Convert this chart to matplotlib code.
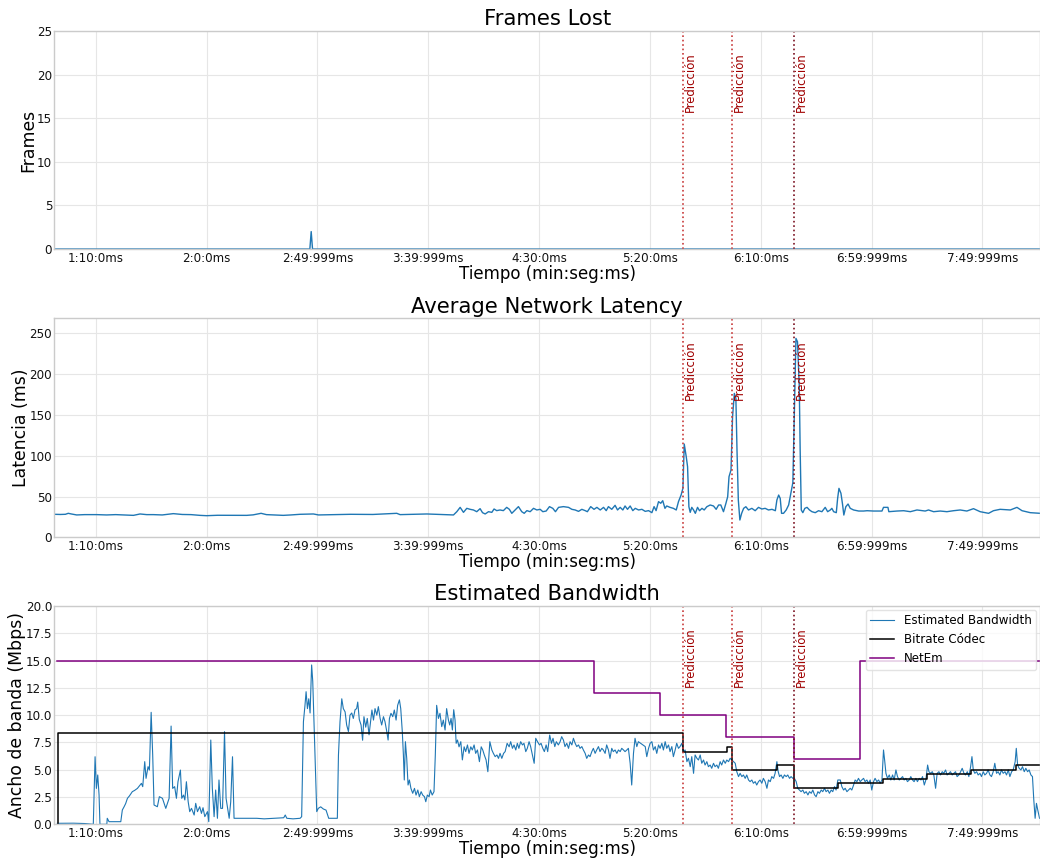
import numpy as np
import matplotlib.pyplot as plt
from matplotlib import transforms


# Time axis (seconds) and its labels
tick_pos = [70, 120, 170, 220, 270, 320, 370, 420, 470]
tick_labels = ['1:10:0ms', '2:0:0ms', '2:49:999ms', '3:39:999ms', '4:30:0ms',
               '5:20:0ms', '6:10:0ms', '6:59:999ms', '7:49:999ms']
t_min, t_max = 51.3, 496.0

# Moments where the predictor fired
pred_times = [334.9, 357.2, 384.9]
pred_colors = ['#c83a3a', '#c83a3a', '#7a1020']

# Frames lost
frames_t = [51.3, 166.6, 167.2, 167.8, 496.0]
frames_v = [0, 0, 2, 0, 0]

# Average network latency (ms)
latency_pts = [
    (51.3, 28.2), (54.0, 28.0), (56.3, 28.2), (57.6, 29.4), (59.0, 28.6), (61.4, 27.4),
    (65.0, 27.8), (70.4, 27.8), (74.9, 27.4), (79.0, 27.8), (83.0, 27.4), (87.0, 26.9),
    (90.0, 28.6), (93.0, 27.8), (96.0, 27.8), (100.0, 27.4), (105.0, 29.0), (109.0, 28.0),
    (113.0, 27.8), (117.0, 26.9), (120.0, 26.5), (125.0, 27.0), (129.0, 27.0), (133.0, 26.9),
    (138.1, 26.9), (141.0, 27.5), (144.6, 29.4), (147.0, 27.8), (150.0, 27.4), (154.6, 26.9),
    (158.0, 27.4), (162.2, 28.2), (168.2, 28.6), (170.5, 27.4), (185.0, 28.2), (195.0, 28.0),
    (205.8, 29.4), (207.3, 27.8), (219.4, 28.6), (225.0, 28.0), (231.4, 27.4), (232.9, 31.4),
    (234.4, 36.7), (235.9, 30.6), (237.4, 35.5), (238.9, 34.3), (240.4, 33.5), (241.9, 31.4),
    (243.4, 35.1), (244.5, 30.2), (245.7, 28.6), (247.2, 31.4), (248.7, 30.6), (249.7, 34.7),
    (250.9, 32.7), (252.4, 33.5), (253.9, 32.7), (255.4, 36.7), (256.6, 34.3), (257.7, 29.4),
    (259.2, 33.5), (260.7, 37.6), (262.2, 31.4), (263.3, 29.4), (264.5, 32.7), (266.0, 31.4),
    (267.5, 35.5), (269.0, 33.5), (270.5, 34.3), (271.7, 31.4), (273.2, 32.2), (274.7, 37.6),
    (276.2, 35.5), (277.4, 31.4), (278.8, 36.7), (281.0, 37.6), (283.3, 36.7), (284.8, 34.3),
    (286.3, 33.5), (287.8, 31.8), (289.3, 34.3), (290.8, 32.7), (291.8, 31.4), (293.3, 37.6),
    (294.8, 34.3), (296.1, 36.7), (297.6, 33.5), (299.1, 36.7), (300.3, 32.7), (301.3, 37.6),
    (302.8, 34.3), (304.3, 39.2), (305.4, 33.5), (306.6, 36.7), (307.8, 33.5), (308.8, 38.4),
    (309.9, 34.3), (311.1, 38.4), (312.3, 32.7), (313.4, 35.5), (314.9, 33.5), (316.4, 34.3),
    (317.9, 31.8), (319.4, 32.7), (320.9, 30.2), (321.9, 37.6), (322.8, 32.7), (323.9, 43.7),
    (324.9, 41.7), (325.8, 44.9), (326.8, 35.5), (327.6, 38.4), (329.1, 36.7), (330.6, 35.5),
    (331.9, 33.5), (332.9, 43.7), (334.1, 52.0), (334.9, 60.0), (335.5, 114.3), (336.4, 98.8),
    (337.0, 86.6), (337.6, 37.5), (338.2, 30.6), (338.9, 36.7), (339.7, 33.5), (340.5, 29.4),
    (341.5, 36.7), (342.4, 32.6), (343.5, 35.5), (344.5, 33.5), (345.7, 37.5), (347.2, 39.6),
    (348.7, 38.4), (349.9, 34.3), (351.0, 39.6), (352.0, 39.6), (353.2, 31.4), (354.3, 41.6),
    (355.1, 49.8), (355.7, 74.3), (356.6, 82.5), (357.3, 147.8), (358.1, 176.4), (358.8, 170.3),
    (359.3, 107.0), (359.9, 45.7), (360.6, 21.2), (361.4, 29.4), (362.3, 35.5), (363.3, 37.5),
    (364.5, 33.5), (366.0, 35.5), (367.5, 32.6), (369.0, 36.7), (370.5, 34.7), (372.0, 35.5),
    (373.5, 33.5), (375.1, 34.3), (376.6, 32.6), (377.3, 45.7), (378.1, 51.8), (378.8, 47.7),
    (379.4, 29.4), (380.3, 29.4), (381.5, 33.5), (382.6, 39.6), (383.3, 49.8), (384.1, 62.0),
    (384.5, 67.0), (385.3, 168.0), (385.9, 243.8), (386.6, 239.7), (387.4, 184.6), (387.8, 107.0),
    (388.3, 33.5), (389.0, 30.2), (389.9, 35.5), (390.9, 36.7), (392.0, 33.5), (393.1, 31.4),
    (394.6, 30.2), (396.1, 32.6), (397.6, 31.4), (399.1, 36.7), (400.2, 31.4), (401.4, 33.5),
    (402.1, 35.5), (402.9, 31.4), (404.1, 30.2), (404.7, 47.7), (405.3, 60.0), (406.2, 53.9),
    (406.9, 40.8), (407.5, 27.3), (408.4, 37.5), (409.4, 40.8), (410.4, 35.5), (411.9, 33.5),
    (414.2, 32.2), (416.4, 32.2), (418.0, 32.6), (420.9, 32.2), (424.7, 32.2), (425.4, 36.7),
    (427.4, 36.7), (427.8, 31.4), (431.5, 32.2), (434.5, 32.6), (437.5, 31.4), (440.5, 33.5),
    (444.2, 32.2), (445.7, 33.5), (448.0, 31.4), (451.0, 32.2), (454.0, 31.4), (457.0, 32.6),
    (460.0, 33.5), (463.0, 32.2), (466.0, 35.1), (469.0, 31.4), (472.8, 29.4), (475.0, 32.6),
    (478.0, 34.3), (482.6, 33.5), (485.6, 36.7), (487.9, 32.6), (491.6, 30.2), (496.1, 29.4),
]

# Estimated bandwidth (Mbps)
bw_pts = [
    (52.7, 0.09), (60.0, 0.1), (65.0, 0.07), (68.9, 0.0), (69.7, 6.19), (70.3, 3.29),
    (70.9, 4.52), (71.5, 2.68), (71.9, 0.0), (75.0, 0.0), (75.2, 0.55), (76.0, 0.24),
    (81.3, 0.24), (82.0, 1.31), (82.8, 1.61), (83.5, 1.9), (84.3, 2.38), (85.2, 2.6),
    (86.5, 2.99), (87.5, 3.1), (88.8, 3.29), (89.6, 3.5), (90.6, 3.75), (91.2, 3.45),
    (92.1, 5.74), (92.7, 4.21), (93.6, 5.28), (94.2, 4.97), (95.0, 10.26), (95.7, 6.35),
    (96.3, 1.77), (97.8, 1.61), (98.7, 2.53), (100.1, 2.38), (101.6, 1.46), (103.1, 2.38),
    (104.0, 9.0), (104.7, 3.29), (105.6, 3.45), (106.4, 2.38), (107.1, 3.9), (108.2, 4.97),
    (108.8, 2.38), (109.6, 2.68), (110.2, 2.23), (110.9, 3.9), (111.7, 2.07), (112.4, 1.16),
    (113.2, 1.46), (114.4, 0.85), (115.1, 1.92), (115.9, 1.16), (116.9, 1.61), (117.7, 1.0),
    (118.4, 1.52), (119.2, 0.7), (120.4, 1.16), (121.0, 0.24), (121.9, 7.72), (122.6, 3.29),
    (123.4, 0.7), (124.1, 3.14), (124.9, 0.55), (125.6, 4.06), (126.4, 1.46), (127.2, 1.46),
    (128.1, 8.49), (128.8, 2.38), (129.4, 1.61), (130.2, 0.55), (130.9, 2.07), (131.7, 6.19),
    (132.4, 0.55), (133.2, 0.55), (142.6, 0.55), (146.0, 0.5), (150.0, 0.55), (154.8, 0.6),
    (155.5, 0.85), (156.2, 0.55), (159.0, 0.5), (162.2, 0.55), (162.9, 0.7), (163.7, 9.4),
    (164.4, 10.9), (164.9, 12.15), (165.5, 10.6), (166.1, 11.5), (166.7, 10.2), (167.4, 14.6),
    (167.9, 13.1), (168.5, 9.1), (169.1, 4.8), (169.7, 1.16), (170.4, 1.46), (171.5, 1.6),
    (172.7, 1.4), (173.9, 1.3), (175.1, 0.55), (179.0, 0.55), (179.5, 6.35), (180.2, 9.4),
    (181.0, 11.5), (181.7, 10.6), (182.5, 10.3), (183.2, 9.1), (184.0, 8.5), (184.7, 10.0),
    (185.5, 10.2), (186.2, 9.7), (187.0, 10.5), (187.7, 10.6), (188.2, 11.2), (188.9, 9.6),
    (189.7, 9.1), (190.4, 7.7), (191.0, 9.86), (191.8, 8.9), (192.5, 9.7), (193.3, 8.2),
    (194.0, 9.4), (194.6, 10.47), (195.3, 9.55), (196.0, 10.6), (196.8, 10.0), (197.5, 10.78),
    (198.3, 9.7), (199.0, 9.1), (199.8, 9.86), (200.5, 9.4), (201.3, 8.5), (201.9, 7.72),
    (202.5, 9.7), (203.2, 10.17), (204.0, 9.86), (204.7, 10.47), (205.5, 9.55), (206.2, 10.9),
    (207.0, 11.4), (207.6, 10.6), (208.3, 8.5), (208.8, 6.35), (209.2, 4.06), (209.7, 7.57),
    (210.3, 6.04), (210.9, 3.6), (211.5, 4.06), (212.2, 3.29), (213.0, 2.84), (213.8, 3.29),
    (214.5, 2.68), (215.3, 3.14), (216.0, 2.53), (216.8, 2.99), (217.5, 2.68), (218.3, 2.53),
    (218.9, 2.07), (219.6, 2.68), (220.4, 2.53), (221.0, 3.14), (221.8, 2.68), (222.6, 2.99),
    (223.2, 6.35), (223.8, 10.9), (224.6, 9.7), (225.3, 10.17), (226.1, 8.95), (226.8, 9.55),
    (227.6, 8.64), (228.3, 10.6), (229.1, 9.56), (229.7, 9.1), (230.3, 9.7), (230.9, 8.64),
    (231.5, 10.5), (232.1, 9.56), (232.6, 7.42), (233.2, 7.72), (233.9, 7.1), (234.7, 7.57),
    (235.4, 5.9), (236.2, 7.1), (236.9, 6.66), (237.7, 7.27), (238.4, 6.5), (239.2, 7.1),
    (239.9, 6.81), (240.7, 7.27), (241.4, 6.5), (242.2, 6.81), (243.1, 5.74), (243.9, 7.1),
    (244.6, 6.81), (245.3, 6.35), (246.1, 5.9), (246.9, 4.82), (247.8, 7.57), (248.7, 6.81),
    (249.4, 6.5), (250.2, 6.2), (251.0, 6.35), (251.7, 6.04), (252.4, 6.5), (253.2, 6.04),
    (254.0, 6.5), (254.7, 6.66), (255.6, 7.42), (256.5, 7.1), (257.2, 7.57), (258.0, 6.96),
    (258.7, 7.27), (259.5, 6.81), (260.2, 7.42), (260.9, 6.96), (261.7, 7.57), (262.5, 7.27),
    (263.2, 7.42), (264.0, 6.66), (264.7, 6.96), (265.5, 7.57), (266.2, 7.12), (267.0, 6.35),
    (267.8, 5.59), (268.5, 7.88), (269.3, 7.57), (270.2, 7.27), (270.9, 7.42), (271.7, 6.96),
    (272.4, 6.66), (273.2, 7.27), (273.9, 6.66), (274.8, 8.18), (275.6, 7.42), (276.3, 7.88),
    (277.1, 7.12), (277.8, 7.57), (278.7, 7.27), (279.5, 7.57), (280.2, 8.03), (281.0, 7.72),
    (281.7, 7.12), (282.5, 7.42), (283.3, 6.96), (284.0, 7.57), (284.8, 7.27), (285.5, 7.88),
    (286.3, 7.42), (287.0, 7.12), (287.8, 7.27), (288.5, 6.96), (289.3, 7.12), (290.0, 6.81),
    (290.8, 6.5), (291.5, 6.04), (292.3, 6.35), (293.0, 6.2), (293.8, 6.66), (294.5, 6.96),
    (295.3, 6.5), (296.0, 6.81), (296.8, 7.12), (297.5, 6.66), (298.3, 6.96), (299.0, 6.81),
    (299.8, 6.5), (300.5, 7.27), (301.3, 6.81), (302.0, 6.04), (302.8, 6.96), (303.5, 6.66),
    (304.3, 6.81), (305.1, 6.5), (305.8, 6.81), (306.6, 6.66), (307.3, 6.96), (308.1, 6.81),
    (308.8, 6.66), (309.6, 6.81), (310.3, 6.96), (311.1, 5.59), (311.8, 3.6), (312.6, 6.5),
    (313.3, 7.88), (314.1, 7.12), (314.8, 7.57), (317.9, 7.12), (318.6, 6.2), (319.4, 6.96),
    (320.1, 7.42), (320.9, 7.57), (321.6, 6.81), (322.4, 7.12), (323.1, 6.5), (323.9, 7.27),
    (324.6, 6.96), (325.4, 7.42), (326.1, 6.81), (326.9, 7.57), (327.6, 6.96), (328.4, 7.27),
    (329.1, 6.66), (329.9, 7.12), (330.6, 6.2), (331.4, 6.81), (332.1, 7.42), (332.9, 6.96),
    (333.6, 7.12), (334.4, 7.42), (335.2, 6.66), (335.9, 6.81), (336.7, 5.74), (337.4, 6.05),
    (338.2, 5.28), (338.9, 6.2), (339.7, 4.67), (340.4, 6.35), (341.2, 6.05), (341.9, 5.89),
    (342.7, 6.35), (343.4, 5.59), (344.2, 5.89), (344.9, 5.43), (345.7, 5.74), (346.4, 5.28),
    (347.2, 5.43), (347.9, 5.13), (348.7, 5.59), (349.4, 5.28), (350.2, 5.43), (350.9, 5.13),
    (351.7, 5.74), (352.4, 5.43), (353.2, 5.89), (354.0, 5.59), (354.7, 5.89), (355.5, 5.74),
    (356.2, 6.05), (357.0, 5.89), (357.7, 5.74), (358.5, 5.59), (359.2, 4.82), (360.0, 4.37),
    (360.7, 4.67), (361.5, 4.37), (362.2, 4.52), (363.0, 4.21), (363.7, 4.52), (364.5, 4.06),
    (365.2, 3.91), (366.0, 4.06), (366.7, 3.76), (367.5, 3.91), (368.2, 3.6), (369.0, 3.91),
    (369.7, 4.06), (370.5, 3.76), (371.2, 4.21), (372.0, 3.91), (372.8, 3.3), (373.5, 4.06),
    (374.3, 3.91), (375.0, 4.37), (375.8, 4.21), (376.5, 4.67), (377.3, 5.74), (377.9, 4.82),
    (378.5, 4.37), (379.2, 4.52), (380.0, 4.21), (380.7, 4.52), (381.5, 4.37), (382.2, 4.52),
    (383.0, 4.21), (383.7, 4.37), (384.5, 4.21), (385.2, 4.21), (386.0, 3.91), (386.7, 3.3),
    (387.5, 3.14), (388.2, 2.99), (389.0, 3.14), (389.7, 2.84), (390.5, 2.99), (391.3, 2.69),
    (392.0, 2.99), (392.8, 2.84), (393.5, 3.14), (394.3, 2.69), (395.0, 2.53), (395.8, 2.99),
    (396.5, 2.84), (397.3, 3.14), (398.0, 2.99), (398.8, 3.3), (399.5, 2.99), (400.3, 3.14),
    (401.0, 2.84), (401.8, 3.14), (402.5, 2.99), (403.3, 3.45), (404.0, 3.14), (404.8, 4.06),
    (405.9, 4.06), (406.6, 3.45), (407.4, 3.14), (408.1, 3.3), (408.9, 2.99), (409.6, 3.14),
    (410.4, 3.3), (411.1, 3.14), (411.9, 3.6), (412.6, 4.06), (413.4, 3.91), (414.1, 4.21),
    (414.9, 3.91), (415.6, 4.06), (416.4, 4.21), (417.1, 3.91), (417.9, 4.06), (418.6, 3.76),
    (419.4, 4.06), (420.1, 3.14), (420.9, 3.91), (421.6, 4.21), (422.4, 3.91), (423.2, 4.06),
    (423.9, 3.76), (424.7, 4.06), (425.4, 6.81), (425.9, 5.89), (426.5, 4.67), (427.2, 4.21),
    (428.0, 4.52), (428.7, 4.06), (429.5, 4.52), (430.2, 4.06), (431.0, 4.98), (431.7, 4.37),
    (432.5, 4.06), (433.2, 4.21), (434.0, 4.37), (434.7, 4.06), (435.5, 4.21), (436.2, 3.91),
    (437.0, 4.06), (437.7, 4.37), (438.5, 4.06), (439.2, 3.91), (440.0, 4.21), (440.7, 3.91),
    (441.5, 4.21), (442.3, 4.06), (443.0, 4.37), (443.8, 3.6), (444.5, 4.06), (445.3, 5.43),
    (445.9, 4.82), (446.6, 4.67), (447.4, 4.82), (448.1, 4.52), (448.9, 3.3), (449.6, 4.67),
    (450.4, 4.82), (451.1, 4.52), (451.9, 4.82), (452.6, 4.67), (453.4, 4.98), (454.1, 4.52),
    (454.9, 4.67), (455.6, 4.82), (456.4, 4.52), (457.1, 4.67), (457.9, 4.82), (458.6, 4.37),
    (459.4, 4.52), (460.2, 4.82), (460.9, 5.13), (461.7, 4.67), (462.4, 4.52), (463.2, 4.82),
    (463.9, 4.37), (464.7, 5.28), (465.3, 6.2), (465.9, 4.98), (466.6, 4.67), (467.4, 4.82),
    (468.1, 4.52), (468.9, 4.67), (469.6, 4.37), (470.4, 4.82), (471.1, 4.52), (471.9, 4.67),
    (472.6, 4.98), (473.4, 4.52), (474.1, 4.37), (474.9, 4.82), (475.6, 5.59), (476.4, 4.67),
    (477.1, 4.82), (477.9, 4.52), (478.6, 4.98), (479.4, 4.67), (480.2, 4.82), (480.9, 4.52),
    (481.7, 4.98), (482.4, 4.37), (483.2, 4.82), (483.9, 4.98), (484.8, 5.74), (485.3, 6.96),
    (485.9, 5.43), (486.6, 5.13), (487.4, 4.98), (488.1, 5.28), (488.9, 4.82), (489.6, 5.13),
    (490.4, 4.82), (491.1, 4.98), (491.9, 4.52), (492.6, 4.37), (493.2, 2.23), (493.8, 0.55),
    (494.4, 1.92), (495.0, 1.3), (495.8, 0.55),
]

# Codec bitrate and NetEm limit (step series, Mbps)
codec_t = [53.1, 53.1, 335.0, 355.0, 357.2, 377.4, 385.0, 405.0, 425.0, 445.0, 465.0, 485.0, 496.0]
codec_v = [0.0, 8.34, 6.65, 7.05, 4.98, 5.43, 3.30, 3.75, 4.13, 4.60, 4.98, 5.43, 5.43]
netem_t = [52.7, 294.6, 324.6, 354.5, 384.8, 414.6, 496.0]
netem_v = [15, 12, 10, 8, 6, 15, 15]

lat_t, lat_v = zip(*latency_pts)
bw_t, bw_v = zip(*bw_pts)

BLUE = '#1f77b4'
EDGE = '#cbcbcb'
GRID = '#e6e6e6'


def style_axes(ax, title, ylabel):
    ax.set_facecolor('white')
    for s in ax.spines.values():
        s.set_color(EDGE)
        s.set_linewidth(1.0)
    ax.grid(True, color=GRID, linewidth=0.8)
    ax.set_axisbelow(True)
    ax.set_xlim(t_min, t_max)
    ax.set_xticks(tick_pos)
    ax.set_xticklabels(tick_labels)
    ax.tick_params(axis='x', length=0, pad=2, labelsize=8.6, colors='#111111')
    ax.tick_params(axis='y', length=0, pad=1.5, labelsize=8.6, colors='#111111')
    ax.set_title(title, fontsize=15.2, pad=4)
    ax.set_ylabel(ylabel, fontsize=12.4, labelpad=0)
    ax.set_xlabel('Tiempo (min:seg:ms)', fontsize=12, labelpad=0)


def mark_predictions(ax):
    trans = transforms.blended_transform_factory(ax.transData, ax.transAxes)
    for tp, c in zip(pred_times, pred_colors):
        ax.axvline(tp, color=c, linestyle=':', linewidth=1.2)
        ax.text(tp + 0.4, 0.627, 'Predicción', rotation=90, transform=trans,
                ha='left', va='bottom', color='#a00000', fontsize=8.4)


fig = plt.figure(figsize=(10.4, 8.59), dpi=100)
ax1 = fig.add_axes([0.0522, 0.7101, 0.9478, 0.2538])
ax2 = fig.add_axes([0.0522, 0.3745, 0.9478, 0.2550])
ax3 = fig.add_axes([0.0522, 0.0404, 0.9478, 0.2541])

# Frames lost
ax1.plot(frames_t, frames_v, color=BLUE, linewidth=1.0)
style_axes(ax1, 'Frames Lost', 'Frames')
ax1.set_ylim(0, 25)
ax1.set_yticks([0, 5, 10, 15, 20, 25])
mark_predictions(ax1)

# Latency
ax2.plot(lat_t, lat_v, color=BLUE, linewidth=1.0)
style_axes(ax2, 'Average Network Latency', 'Latencia (ms)')
ax2.set_ylim(0, 268.5)
ax2.set_yticks([0, 50, 100, 150, 200, 250])
mark_predictions(ax2)

# Bandwidth
ax3.plot(bw_t, bw_v, color=BLUE, linewidth=0.8, label='Estimated Bandwidth')
ax3.plot(codec_t, codec_v, color='black', linewidth=1.1, drawstyle='steps-post',
         label='Bitrate Códec')
ax3.plot(netem_t, netem_v, color='purple', linewidth=1.1, drawstyle='steps-post',
         label='NetEm')
style_axes(ax3, 'Estimated Bandwidth', 'Ancho de banda (Mbps)')
ax3.set_ylim(0, 20)
ax3.set_yticks(np.arange(0, 20.1, 2.5))
ax3.set_yticklabels(['%.1f' % v for v in np.arange(0, 20.1, 2.5)])
mark_predictions(ax3)
leg = ax3.legend(loc='upper right', fontsize=8.6, framealpha=0.8, borderaxespad=0.3)
leg.get_frame().set_edgecolor('#dddddd')

fig.savefig('out.png', dpi=100)
